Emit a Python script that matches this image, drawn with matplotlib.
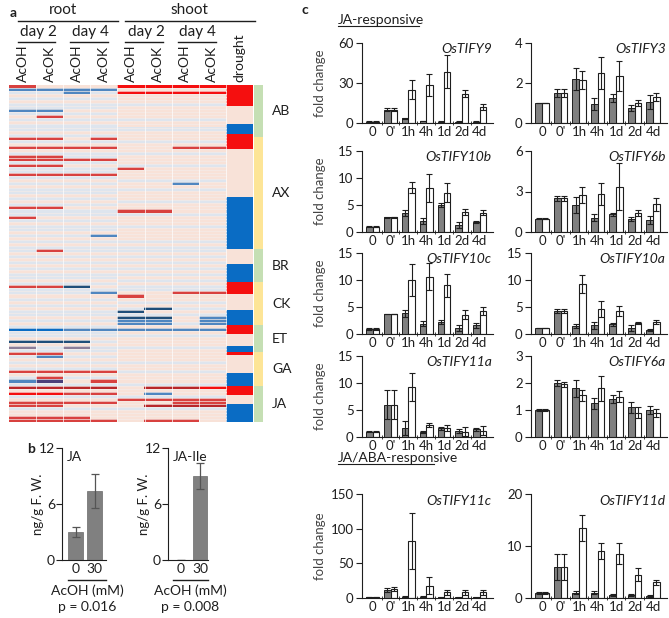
import numpy as np
import matplotlib
matplotlib.use("Agg")
import matplotlib.pyplot as plt
from matplotlib.colors import ListedColormap
from matplotlib.lines import Line2D

plt.rcParams["font.family"] = ["Lato", "DejaVu Sans"]
plt.rcParams["text.color"] = "#1e1e1e"
plt.rcParams["axes.edgecolor"] = "#1e1e1e"
plt.rcParams["xtick.color"] = "#1e1e1e"
plt.rcParams["ytick.color"] = "#1e1e1e"

W, H = 669, 618

# --------------------------- panel a data ---------------------------
COLUMNS = ["AcOH", "AcOK", "AcOH", "AcOK", "AcOH", "AcOK", "AcOH", "AcOK", "drought"]
GROUPS = ["AB", "AX", "BR", "CK", "ET", "GA", "JA"]
GROUP_SIZES = [17, 37, 11, 14, 9, 11, 12]

# pale background per row (b = slightly down, p = slightly up)
ROOT_BG = ("pbbpbpbbpb" "pbpbbpbpbp" "bpbbpbpbbp" "bpbpbbpbpb" "pbbpbpbbpb"
           "pbpbbpbpbp" "bpbbpbpbbp" "bpbpbbpbpb" "pbbpbpbbpb" "pbpbbpbpbp"
           "ppbpppbpppp")
SHOOT_BG = ("ppppppbppp" "pbppbpppbp" "ppbpppbppp" "pbppbpppbp" "ppbpppbppp"
            "pbpbbpbpbp" "bpbpbpbbpp" "pbpbpbppbp" "ppbpppbppp" "pbppbpppbp"
            "ppbpppbpppp")

# strong changes: (row, first column, last column + 1, level)
HILITES = [
    (0, 0, 1, "r"), (0, 4, 8, "R"), (1, 0, 4, "m"), (2, 2, 3, "m"), (2, 4, 8, "R"),
    (8, 0, 2, "m"), (10, 1, 2, "r"), (17, 0, 2, "r"), (17, 3, 4, "r"),
    (20, 0, 4, "r"), (20, 6, 8, "r"), (23, 0, 2, "r"), (24, 0, 4, "r"),
    (26, 0, 2, "r"), (27, 4, 5, "r"), (29, 0, 4, "r"), (32, 6, 7, "m"),
    (40, 0, 2, "r"), (41, 4, 6, "r"), (43, 0, 1, "r"), (49, 3, 4, "m"),
    (54, 1, 2, "r"), (66, 0, 2, "r"), (66, 2, 3, "N"), (68, 3, 4, "m"),
    (68, 6, 8, "r"), (69, 4, 5, "r"), (73, 5, 6, "N"), (74, 4, 5, "N"),
    (76, 4, 6, "N"), (76, 7, 8, "m"), (77, 4, 6, "m"), (77, 7, 8, "m"),
    (78, 4, 6, "m"), (78, 7, 8, "m"), (80, 0, 2, "B"), (80, 2, 8, "m"),
    (84, 0, 3, "N"), (86, 0, 1, "g"), (86, 2, 3, "g"), (88, 0, 2, "r"),
    (89, 1, 2, "m"), (94, 0, 4, "r"), (96, 1, 2, "r"), (97, 0, 1, "m"),
    (97, 1, 2, "u"), (97, 3, 4, "r"), (99, 0, 4, "D"), (99, 5, 7, "D"),
    (99, 7, 8, "R"), (101, 0, 2, "R"), (101, 2, 4, "r"), (101, 5, 6, "m"),
    (103, 4, 8, "r"), (104, 0, 4, "r"), (104, 6, 8, "r"), (105, 0, 2, "r"),
    (105, 5, 8, "D"), (109, 0, 3, "r"), (110, 0, 4, "r"), (110, 5, 7, "r"),
]

# drought column: (first row, last row + 1, level)
DROUGHT = [
    (0, 7, "R"), (7, 13, "p"), (13, 16, "B"), (16, 21, "R"), (21, 37, "p"),
    (37, 54, "B"), (54, 59, "p"), (59, 65, "B"), (65, 69, "R"), (69, 74, "p"),
    (74, 79, "B"), (79, 82, "R"), (82, 86, "p"), (86, 88, "B"), (88, 89, "R"),
    (89, 95, "p"), (95, 99, "B"), (99, 102, "R"), (102, 105, "p"), (105, 111, "B"),
]

LEVELS = ["B", "N", "m", "u", "g", "b", "p", "r", "D", "R"]
LEVEL_COLORS = ["#0a6cc4", "#1f4e79", "#4f86c0", "#4b3f7a", "#8c7e99",
                "#dee5ee", "#f8e2d8", "#d8413f", "#b8262a", "#f50f0f"]

# --------------------------- panel b data ---------------------------
DOSE = ["0", "30"]
JA_MEAN = [3.0, 7.4]
JA_ERR = [0.55, 1.85]
JAILE_MEAN = [0.05, 9.0]
JAILE_ERR = [0.0, 1.35]

# --------------------------- panel c data ---------------------------
TIMES = ["0", "0'", "1h", "4h", "1d", "2d", "4d"]
GENE_GRID = [["OsTIFY9", "OsTIFY3"], ["OsTIFY10b", "OsTIFY6b"],
             ["OsTIFY10c", "OsTIFY10a"], ["OsTIFY11a", "OsTIFY6a"],
             ["OsTIFY11c", "OsTIFY11d"]]
GRAY_MEAN = {
    "OsTIFY9": [1, 10, 3.5, 1.5, 1, 1, 1],
    "OsTIFY3": [1.0, 1.5, 2.2, 0.95, 1.25, 0.75, 1.05],
    "OsTIFY10b": [1.0, 2.7, 3.5, 2.0, 5.0, 1.3, 1.8],
    "OsTIFY6b": [1.0, 2.5, 2.0, 1.05, 1.3, 0.95, 0.9],
    "OsTIFY10c": [1.0, 3.7, 3.8, 1.9, 2.2, 1.1, 1.6],
    "OsTIFY10a": [1.1, 4.3, 1.5, 1.6, 1.8, 1.1, 0.8],
    "OsTIFY11a": [1.0, 6.0, 1.7, 0.9, 1.6, 1.1, 1.4],
    "OsTIFY6a": [1.0, 2.0, 1.8, 1.25, 1.4, 1.1, 1.0],
    "OsTIFY11c": [1, 12, 2, 2, 1, 1, 1],
    "OsTIFY11d": [1, 6, 1, 1, 0.5, 0.5, 0.3],
}
GRAY_ERR = {
    "OsTIFY9": [0.2, 1, 0.5, 0.3, 0.2, 0.2, 0.2],
    "OsTIFY3": [0.02, 0.2, 0.55, 0.3, 0.2, 0.15, 0.35],
    "OsTIFY10b": [0.1, 0.1, 0.6, 0.6, 0.3, 0.5, 0.2],
    "OsTIFY6b": [0.05, 0.2, 0.6, 0.25, 0.1, 0.15, 0.3],
    "OsTIFY10c": [0.2, 0.05, 0.7, 0.5, 0.4, 0.6, 0.4],
    "OsTIFY10a": [0.05, 0.4, 0.3, 0.6, 0.3, 0.5, 0.2],
    "OsTIFY11a": [0.1, 2.7, 1.3, 0.2, 0.3, 0.3, 0.2],
    "OsTIFY6a": [0.05, 0.1, 0.3, 0.2, 0.15, 0.2, 0.15],
    "OsTIFY11c": [0.2, 3, 1, 1, 0.5, 0.5, 0.5],
    "OsTIFY11d": [0.2, 2.5, 0.3, 0.3, 0.2, 0.2, 0.2],
}
WHITE_MEAN = {
    "OsTIFY9": [1, 10, 25, 28.5, 38.5, 22, 12],
    "OsTIFY3": [1.0, 1.5, 2.15, 2.5, 2.35, 1.0, 1.3],
    "OsTIFY10b": [1.0, 2.7, 8.2, 8.2, 7.3, 3.7, 3.6],
    "OsTIFY6b": [1.0, 2.5, 2.75, 2.8, 3.35, 1.4, 2.05],
    "OsTIFY10c": [1.0, 3.7, 10.0, 10.6, 9.0, 3.6, 4.3],
    "OsTIFY10a": [1.1, 4.3, 9.3, 4.7, 4.3, 2.1, 2.2],
    "OsTIFY11a": [1.0, 6.0, 9.2, 2.2, 1.7, 1.0, 1.2],
    "OsTIFY6a": [1.0, 1.95, 1.55, 1.8, 1.5, 0.9, 0.9],
    "OsTIFY11c": [1, 13, 82, 18, 8, 8, 8],
    "OsTIFY11d": [1, 6, 13.5, 9, 8.5, 4.5, 3],
}
WHITE_ERR = {
    "OsTIFY9": [0.2, 1, 7, 8, 12.5, 2.5, 2.5],
    "OsTIFY3": [0.02, 0.2, 0.45, 0.8, 0.75, 0.15, 0.2],
    "OsTIFY10b": [0.1, 0.1, 1.0, 2.6, 1.7, 0.6, 0.5],
    "OsTIFY6b": [0.05, 0.2, 0.6, 0.8, 1.75, 0.2, 0.5],
    "OsTIFY10c": [0.2, 0.05, 3.0, 2.5, 2.2, 0.8, 0.7],
    "OsTIFY10a": [0.05, 0.4, 1.7, 1.5, 0.9, 0.2, 0.4],
    "OsTIFY11a": [0.1, 2.7, 2.6, 0.4, 0.5, 0.9, 0.8],
    "OsTIFY6a": [0.05, 0.1, 0.2, 0.45, 0.2, 0.2, 0.15],
    "OsTIFY11c": [0.5, 3, 40, 12, 3, 3, 3],
    "OsTIFY11d": [0.2, 2.5, 2.5, 1.5, 2, 1.2, 0.5],
}
YTICKS = {
    "OsTIFY9": [0, 30, 60], "OsTIFY3": [0, 2, 4], "OsTIFY10b": [0, 5, 10, 15],
    "OsTIFY6b": [0, 3, 6], "OsTIFY10c": [0, 5, 10, 15], "OsTIFY10a": [0, 5, 10, 15],
    "OsTIFY11a": [0, 5, 10, 15], "OsTIFY6a": [0, 1, 2, 3],
    "OsTIFY11c": [0, 50, 100, 150], "OsTIFY11d": [0, 10, 20],
}


# --------------------------- helpers ---------------------------

def rect(x0, y0, x1, y1):
    return [x0 / W, 1 - y1 / H, (x1 - x0) / W, (y1 - y0) / H]


def ftext(x, y, s, **kw):
    return fig.text(x / W, 1 - y / H, s, **kw)


def fline(x0, x1, y, lw=1.0):
    fig.add_artist(Line2D([x0 / W, x1 / W], [1 - y / H, 1 - y / H], color="#1e1e1e", lw=lw))


fig = plt.figure(figsize=(W / 100, H / 100), dpi=100)

# --------------------------- panel a ---------------------------
n_rows = sum(GROUP_SIZES)
lvl = {c: i for i, c in enumerate(LEVELS)}
mat = np.zeros((n_rows, len(COLUMNS)), dtype=int)
for r in range(n_rows):
    mat[r, 0:4] = lvl[ROOT_BG[r]]
    mat[r, 4:8] = lvl[SHOOT_BG[r]]
for r, c0, c1, code in HILITES:
    mat[r, c0:c1] = lvl[code]
for r0, r1, code in DROUGHT:
    mat[r0:r1, 8] = lvl[code]

ax_h = fig.add_axes(rect(9, 85, 253, 422))
ax_h.imshow(mat, cmap=ListedColormap(LEVEL_COLORS), vmin=-0.5, vmax=len(LEVELS) - 0.5,
            aspect="auto", interpolation="nearest")
# faint row separators make single rows read as thin lines
for r in range(n_rows - 1):
    ax_h.plot([-0.5, 7.5], [r + 0.5, r + 0.5], color="#f4ece9", lw=0.7, alpha=0.7)
for c in range(8):
    ax_h.axvline(c + 0.5, color="white", lw=0.6, alpha=0.8)
ax_h.set_xlim(-0.5, 8.5)
ax_h.set_ylim(n_rows - 0.5, -0.5)
ax_h.axis("off")

ax_s = fig.add_axes(rect(254, 85, 263, 422))
bottom = 0
for i, (g, n) in enumerate(zip(GROUPS, GROUP_SIZES)):
    ax_s.bar(0.5, n, width=1, bottom=bottom, color="#c5dfb4" if i % 2 == 0 else "#fde597")
    ax_s.text(2.0, bottom + n / 2, g, ha="left", va="center", fontsize=10, clip_on=False)
    bottom += n
ax_s.set_xlim(0, 1)
ax_s.set_ylim(n_rows, 0)
ax_s.axis("off")

ftext(13, 13, "a", fontsize=10, fontweight="bold", ha="center", va="center")
ftext(63, 10, "root", fontsize=11, ha="center", va="center")
ftext(189, 10, "shoot", fontsize=11, ha="center", va="center")
fline(18, 118, 21)
fline(125, 255, 21)
for cx, x0, x1 in [(38, 18, 55), (90, 70, 108), (146, 125, 163), (197, 178, 216)]:
    ftext(cx, 32, "day 2" if cx in (38, 146) else "day 4", fontsize=11, ha="center", va="center")
    fline(x0, x1, 42)
for i, lab in enumerate(COLUMNS):
    ftext(22.5 + 27.1 * i, 82, lab, fontsize=10, rotation=90, ha="center", va="bottom")

# --------------------------- panel b ---------------------------
def hormone_panel(x_axis, x_right, means, errs, title, ylabel_x, centre):
    ax = fig.add_axes(rect(x_axis, 448, x_right, 560))
    x = np.arange(len(DOSE))
    ax.bar(x, means, width=0.78, color="#808080", edgecolor="#6a6a6a", lw=0.5,
           yerr=errs, error_kw=dict(ecolor="#555555", elinewidth=0.9, capsize=3, capthick=0.9))
    ax.set_ylim(0, 12)
    ax.set_yticks([0, 6, 12])
    ax.set_xlim((x_axis - centre) / 19.0, (x_right - centre) / 19.0)
    ax.set_xticks(x)
    ax.set_xticklabels(DOSE, fontsize=10)
    ax.tick_params(axis="x", length=0, pad=2)
    ax.tick_params(axis="y", length=4, labelsize=10, pad=1)
    for s in ("top", "right"):
        ax.spines[s].set_visible(False)
    ax.text(0.12, 0.97, title, transform=ax.transAxes, fontsize=10, ha="left", va="top")
    ftext(ylabel_x, 504, "ng/g F. W.", rotation=90, fontsize=9.5, ha="center", va="center")
    return ax


hormone_panel(62, 106, JA_MEAN, JA_ERR, "JA", 38, 75.5)
hormone_panel(168, 208, JAILE_MEAN, JAILE_ERR, "JA-Ile", 144, 181)
ftext(31, 449, "b", fontsize=10, fontweight="bold", ha="center", va="center")
for x0, x1, p in [(68, 106, "p = 0.016"), (173, 208, "p = 0.008")]:
    fline(x0, x1, 580)
    ftext((x0 + x1) / 2, 591, "AcOH (mM)", fontsize=10, ha="center", va="center")
    ftext((x0 + x1) / 2, 607, p, fontsize=10, ha="center", va="center")

# --------------------------- panel c ---------------------------
ROW_Y = [(43, 123), (151, 232), (253, 334), (356, 437), (494, 598)]
COL_X = [(362, 493), (531, 667)]

ftext(305, 10, "c", fontsize=10, fontweight="bold", ha="center", va="center")
ftext(338, 20, "JA-responsive", fontsize=10, ha="left", va="center")
fline(338, 419, 26, lw=0.8)
ftext(338, 458, "JA/ABA-responsive", fontsize=10, ha="left", va="center")
fline(338, 434, 464, lw=0.8)

x = np.arange(len(TIMES))
bw = 0.36
ekw = dict(ecolor="#1e1e1e", elinewidth=0.8, capsize=2.2, capthick=0.8)
for r, genes in enumerate(GENE_GRID):
    y0, y1 = ROW_Y[r]
    for c, gene in enumerate(genes):
        x0, x1 = COL_X[c]
        ax = fig.add_axes(rect(x0, y0, x1, y1))
        ax.bar(x - bw / 2, GRAY_MEAN[gene], bw, color="#808080", edgecolor="#1e1e1e", lw=0.7,
               yerr=GRAY_ERR[gene], error_kw=ekw)
        ax.bar(x + bw / 2, WHITE_MEAN[gene], bw, color="white", edgecolor="#1e1e1e", lw=0.8,
               yerr=WHITE_ERR[gene], error_kw=ekw)
        ticks = YTICKS[gene]
        ax.set_ylim(0, ticks[-1])
        ax.set_yticks(ticks)
        ax.set_xlim(-0.6, 6.75)
        ax.set_xticks(x)
        ax.set_xticklabels(TIMES, fontsize=9.5)
        ax.set_xticks(x[:-1] + 0.5, minor=True)
        ax.tick_params(axis="x", which="major", length=0, pad=2)
        ax.tick_params(axis="x", which="minor", length=3, direction="inout")
        ax.tick_params(axis="y", length=4, labelsize=9.5, pad=2)
        for s in ("top", "right"):
            ax.spines[s].set_visible(False)
        ax.text(0.99, 0.93, gene, transform=ax.transAxes, fontsize=10, style="italic",
                ha="right", va="center")
        if c == 0:
            ftext(320, (y0 + y1) / 2, "fold change", rotation=90, fontsize=9.5,
                  ha="center", va="center", color="#444444")

fig.savefig("out.png", dpi=100)
